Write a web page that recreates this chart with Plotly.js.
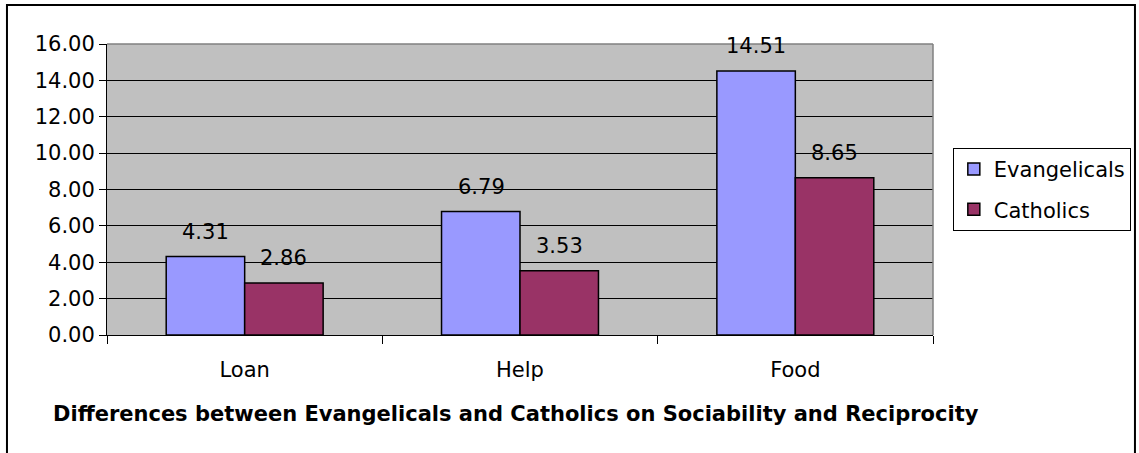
<!DOCTYPE html>
<html>
<head>
<meta charset="utf-8">
<script src="https://cdn.plot.ly/plotly-3.0.1.min.js"></script>
<style>
html,body{margin:0;padding:0;background:#fff;}
#chart{width:1139px;height:453px;}
</style>
</head>
<body>
<div id="chart"></div>
<script>
var categories = ["Loan", "Help", "Food"];
var seriesNames = ["Evangelicals", "Catholics"];
var evangelicals = [4.31, 6.79, 14.51];
var catholics = [2.86, 3.53, 8.65];
var yTicks = [0, 2, 4, 6, 8, 10, 12, 14, 16];
var chartTitle = "Differences between Evangelicals and Catholics on Sociability and Reciprocity";

var FONT = "DejaVu Sans, Liberation Sans, Arial, sans-serif";
var colors = ["#9999FF", "#993366"];
var seriesValues = [evangelicals, catholics];

var traces = seriesValues.map(function (vals, i) {
  return {
    type: "bar",
    name: seriesNames[i],
    x: categories,
    y: vals,
    legendgroup: "g" + i,
    marker: { color: colors[i], line: { color: "#000000", width: 1.5 } },
    hoverinfo: "x+y+name"
  };
});

var annotations = [];
var shifts = [-39, 39];
seriesValues.forEach(function (vals, i) {
  vals.forEach(function (v, j) {
    annotations.push({
      x: categories[j], y: v, xref: "x", yref: "y",
      text: v.toFixed(2), showarrow: false,
      xanchor: "center", yanchor: "bottom",
      xshift: shifts[i], yshift: 11,
      font: { family: FONT, size: 21, color: "#000" }
    });
  });
});
annotations.push({
  xref: "paper", yref: "paper", x: 0.495, y: -0.2715,
  xanchor: "center", yanchor: "middle", showarrow: false,
  text: "<b>" + chartTitle + "</b>",
  font: { family: FONT, size: 21, color: "#000" }
});

var layout = {
  width: 1139, height: 453,
  margin: { l: 107, r: 206, t: 44, b: 118, pad: 0, autoexpand: false },
  paper_bgcolor: "#ffffff",
  plot_bgcolor: "#C0C0C0",
  barmode: "group",
  bargap: 0.43,
  bargroupgap: 0,
  font: { family: FONT, size: 21, color: "#000" },
  showlegend: true,
  legend: {
    x: 1.024, y: 0.643, xanchor: "left", yanchor: "top",
    bgcolor: "#ffffff", bordercolor: "#000000", borderwidth: 1,
    font: { family: FONT, size: 21, color: "#000" },
    traceorder: "grouped", tracegroupgap: 10
  },
  xaxis: {
    type: "category",
    showgrid: false, zeroline: false,
    showline: true, linecolor: "#000", linewidth: 1,
    ticks: "outside", tickson: "boundaries", ticklen: 8, tickcolor: "#000",
    ticklabelstandoff: 16,
    tickfont: { family: FONT, size: 21, color: "#000" },
    automargin: false,
    fixedrange: true
  },
  yaxis: {
    range: [0, 16], tickvals: yTicks, tickformat: ".2f",
    showgrid: true, gridcolor: "#000000", gridwidth: 1,
    zeroline: false,
    showline: true, linecolor: "#000", linewidth: 1,
    ticks: "outside", ticklen: 7, tickcolor: "#000",
    tickfont: { family: FONT, size: 21, color: "#000" },
    automargin: false,
    fixedrange: true
  },
  shapes: [
    { type: "line", xref: "paper", yref: "paper", x0: 0, x1: 1, y0: 1, y1: 1,
      line: { color: "#808080", width: 1.5 } },
    { type: "line", xref: "paper", yref: "paper", x0: 1, x1: 1, y0: 0, y1: 1,
      line: { color: "#808080", width: 1.5 } },
    { type: "rect", xref: "paper", yref: "paper",
      x0: -0.1211, x1: 1.2445, y0: -0.4158, y1: 1.134,
      line: { color: "#000000", width: 2 }, fillcolor: "rgba(0,0,0,0)" }
  ],
  annotations: annotations
};

Plotly.newPlot("chart", traces, layout, { displayModeBar: false, staticPlot: true });
</script>
</body>
</html>
